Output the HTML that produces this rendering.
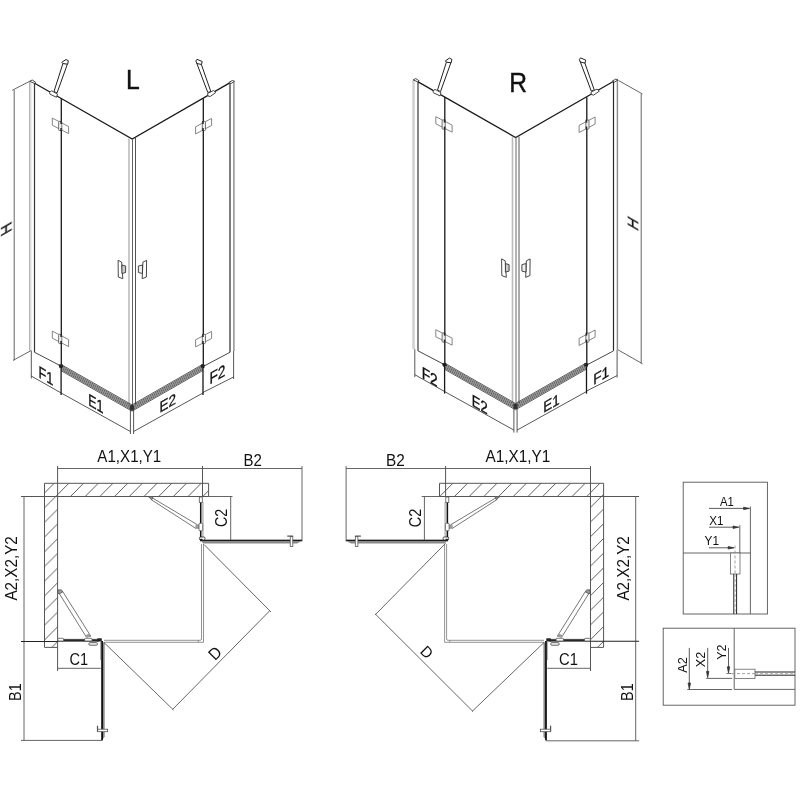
<!DOCTYPE html>
<html><head><meta charset="utf-8">
<style>
html,body{margin:0;padding:0;background:#fff;}
svg{display:block;}
text{font-family:"Liberation Sans",sans-serif;fill:#111;}
.t{will-change:transform;}
</style></head>
<body>
<svg width="800" height="800" viewBox="0 0 800 800">
<defs>
<pattern id="hatchL" patternUnits="userSpaceOnUse" width="14.7" height="14.7" x="8.3" y="0">
<path d="M-1 1 L1 -1 M0 14.7 L14.7 0 M13.7 15.7 L15.7 13.7" stroke="#4a4a4a" stroke-width="0.9"/>
</pattern>
<pattern id="hatchR" patternUnits="userSpaceOnUse" width="14.7" height="14.7" x="10.1" y="0">
<path d="M-1 1 L1 -1 M0 14.7 L14.7 0 M13.7 15.7 L15.7 13.7" stroke="#4a4a4a" stroke-width="0.9"/>
</pattern>
<g id="iso" fill="none">
  <!-- left wall profile -->
  <line x1="29.6" y1="81.5" x2="29.6" y2="350.5" stroke="#b0b0b0" stroke-width="1.1"/>
  <line x1="30.8" y1="82" x2="30.8" y2="350.8" stroke="#dcdcdc" stroke-width="1.4"/>
  <line x1="34.5" y1="83.2" x2="34.5" y2="352.2" stroke="#383838" stroke-width="1.2"/>
  <path d="M29.7 81.25 L32.2 80 L35.6 82.2 L34.4 83.4 Z" fill="#fff" stroke="#333" stroke-width="0.9"/>
  <!-- right wall profile -->
  <line x1="230" y1="83" x2="230" y2="352.2" stroke="#2a2a2a" stroke-width="1.2"/>
  <line x1="233.9" y1="81.5" x2="233.9" y2="351" stroke="#8a8a8a" stroke-width="1.4"/>
  <path d="M228.9 82.4 L232.3 80.5 L234.5 81.25 L231.1 83.5 Z" fill="#fff" stroke="#333" stroke-width="0.9"/>
  <!-- top edges -->
  <path d="M34.6 83.3 L132.2 139 L229.3 83.1" stroke="#1a1a1a" stroke-width="1.3"/>
  <!-- door edges -->
  <line x1="61.3" y1="98.3" x2="61.3" y2="366" stroke="#181818" stroke-width="1.3"/>
  <line x1="203.3" y1="98.6" x2="203.3" y2="366.5" stroke="#181818" stroke-width="1.3"/>
  <!-- center post -->
  <line x1="129" y1="138.5" x2="129" y2="404.5" stroke="#bbb" stroke-width="1.6"/>
  <line x1="132.5" y1="139" x2="132.5" y2="405" stroke="#666" stroke-width="1"/>
  <line x1="135.5" y1="138" x2="135.5" y2="404.5" stroke="#555" stroke-width="1"/>
  <!-- bottom thin edges -->
  <line x1="34.4" y1="352.2" x2="60.5" y2="365.8" stroke="#333" stroke-width="0.9"/>
  <line x1="203.5" y1="366.3" x2="230" y2="352.3" stroke="#333" stroke-width="0.9"/>
  <!-- bottom rails -->
  <g stroke="#333" stroke-width="0.8">
    <path d="M61 364.40 L132 404.90 L203 364.20"/>
    <path d="M61 365.65 L132 406.15 L203 365.45"/>
    <path d="M61 366.90 L132 407.40 L203 366.70"/>
    <path d="M61 368.15 L132 408.65 L203 367.95"/>
    <path d="M61 369.40 L132 409.90 L203 369.20"/>
    <path d="M61 370.65 L132 411.15 L203 370.45"/>
  </g>
  <path d="M58.5 364.6 L62.5 364.2 L63.5 367.2 L59.5 368.2 Z" fill="#222"/>
  <path d="M201 364.4 L205 364.8 L204.2 368.2 L200.5 367.3 Z" fill="#222"/>
  <path d="M129.8 405.5 L132 404.8 L134.2 405.5 L134 410.5 L130 410.5 Z" fill="#333"/>
  <!-- hinges -->
  <g stroke="#777" stroke-width="0.9" fill="#fff">
    <path d="M52.3 118.1 L68.6 126.5 L68.6 133.6 L52.3 125.2 Z"/>
    <path d="M52.3 331.1 L68.6 339.5 L68.6 346.6 L52.3 338.2 Z"/>
    <path d="M195.6 126.8 L211.6 118.4 L211.6 125.5 L195.6 133.9 Z"/>
    <path d="M195.6 339.8 L211.6 331.4 L211.6 338.5 L195.6 346.9 Z"/>
  </g>
  <g stroke="#555" stroke-width="0.8" fill="#eee">
    <rect x="58.6" y="121.3" width="3.2" height="9.3" rx="1"/>
    <rect x="58.6" y="334.3" width="3.2" height="9.3" rx="1"/>
    <rect x="202.3" y="121.3" width="3.2" height="9.3" rx="1"/>
    <rect x="202.3" y="334.3" width="3.2" height="9.3" rx="1"/>
  </g>
  <g stroke="#222" stroke-width="1.5">
    <line x1="61.1" y1="121" x2="61.1" y2="124"/>
    <line x1="61.1" y1="128" x2="61.1" y2="131"/>
    <line x1="61.1" y1="334" x2="61.1" y2="337"/>
    <line x1="61.1" y1="341" x2="61.1" y2="344"/>
    <line x1="203" y1="121" x2="203" y2="124"/>
    <line x1="203" y1="128" x2="203" y2="131"/>
    <line x1="203" y1="334" x2="203" y2="337"/>
    <line x1="203" y1="341" x2="203" y2="344"/>
  </g>
  <!-- stabilizer bars -->
  <g stroke="#222" stroke-width="1" fill="#fff">
    <path d="M54 91.5 L63 63.2 L67.5 63.8 L57 93 Z"/>
    <path d="M61.8 62.3 L66 59.5 L68.4 60.8 L67.6 64.2 L63 63.6 Z"/>
    <path d="M49.5 92.5 L51.5 90.8 L57.5 94 L56.5 97.3 L50 94.2 Z" stroke="#444"/>
    <path d="M207.8 92.5 L196.5 62.5 L200.5 62 L210.8 91.5 Z"/>
    <path d="M195.8 61 L197 59.3 L202.2 61.5 L201.5 64.5 L197 63.5 Z"/>
    <path d="M207.5 93.5 L213.5 90.5 L215.8 92.5 L210.2 96.5 L208 96 Z" stroke="#444"/>
  </g>
  <!-- handles -->
  <g stroke="#333" stroke-width="0.9" fill="#fff">
    <path d="M118.1 260.3 L121.7 262.2 L122.8 278.7 L118.3 277 Z"/>
    <path d="M121.9 265 L125.6 266 L125.6 272.5 L121.9 273.5 Z" fill="#ccc"/>
    <path d="M146.6 260.3 L142.9 262.2 L142.2 278.7 L146.4 277 Z"/>
    <path d="M142.5 265 L138.4 266 L138.4 272.5 L142.5 273.5 Z" fill="#eee"/>
  </g>
  <!-- dimension lines bottom -->
  <g stroke="#444" stroke-width="0.9">
    <line x1="31.3" y1="350.6" x2="31.3" y2="378.5"/>
    <line x1="130.4" y1="409" x2="130.4" y2="434"/>
    <line x1="133.6" y1="409" x2="133.6" y2="434"/>
    <line x1="233.6" y1="351" x2="233.6" y2="379"/>
    <line x1="31.2" y1="376" x2="61.2" y2="393"/>
    <line x1="61.2" y1="393" x2="130.4" y2="431.5"/>
    <line x1="133.6" y1="431.5" x2="202.9" y2="393"/>
    <line x1="202.9" y1="392.5" x2="233.6" y2="377"/>
  </g>
  <g stroke="#181818" stroke-width="1.3">
    <line x1="61.1" y1="366" x2="61.1" y2="395"/>
    <line x1="203" y1="367" x2="203" y2="395"/>
  </g>
</g>

<!-- PLAN (L) geometry common with mirrored R -->
<g id="plan" fill="none">
  <g stroke="#555" stroke-width="1">
    <path d="M208.6 483.3 L44.5 483.3 L44.5 647.4 L57.6 647.4"/>
    <line x1="208.6" y1="483.3" x2="208.6" y2="496.5"/>
    <line x1="44.5" y1="496.5" x2="208.6" y2="496.5"/>
    <line x1="57.6" y1="466" x2="57.6" y2="671"/>
    <line x1="202.5" y1="466" x2="202.5" y2="496.5"/>
  </g>
  <g stroke="#555" stroke-width="0.9">
    <line x1="57.6" y1="468.5" x2="302" y2="468.5"/>
    <line x1="302" y1="466" x2="302" y2="541.5"/>
    <line x1="57.6" y1="668.3" x2="100.8" y2="668.3"/>
  </g>
  <rect x="57.6" y="638.9" width="41" height="2.5" fill="#4a4a4a"/>
  <line x1="57.6" y1="640.9" x2="98.6" y2="640.9" stroke="#111" stroke-width="1"/>
  <!-- right fixed panel -->
  <rect x="201.2" y="502" width="2.6" height="36" fill="#c4c4c4"/>
  <line x1="200.65" y1="497" x2="200.65" y2="540" stroke="#111" stroke-width="1.4"/>
  <!-- closed doors (double lines) -->
  <g stroke="#777" stroke-width="0.8">
    <path d="M201.5 544 L201.5 639 Q201.5 640.3 200.2 640.3 L104 640.3"/>
    <path d="M203.5 544 L203.5 642.3 L104 642.3"/>
    <line x1="198.3" y1="640.3" x2="198.3" y2="642.3"/>
  </g>
  <!-- opened door right (horizontal) -->
  <path d="M201 539.8 L302 539.8 L302 541 L297 543.4 L203 543.4 Z" fill="#8a8a8a"/>
  <line x1="201" y1="540.4" x2="302" y2="540.4" stroke="#1a1a1a" stroke-width="1.3"/>
  <!-- handle right -->
  <rect x="290.2" y="536.6" width="2.6" height="10" fill="#fff" stroke="#555" stroke-width="0.8"/>
  <rect x="287.2" y="535.5" width="5.8" height="1.2" fill="#555"/>
  <!-- opened door bottom (vertical) -->
  <path d="M101.3 641 L101.3 740.5 L101.6 740.5 L104.7 736.7 L104.7 643 Z" fill="#8a8a8a"/>
  <line x1="102.15" y1="641" x2="102.15" y2="740.3" stroke="#111" stroke-width="1.7"/>
  <line x1="100.5" y1="642" x2="100.5" y2="660" stroke="#999" stroke-width="0.8"/>
  <!-- handle bottom -->
  <rect x="97.6" y="729.2" width="10" height="2.5" fill="#fff" stroke="#555" stroke-width="0.8"/>
  <rect x="96.9" y="725.7" width="1.2" height="5.8" fill="#555"/>
  <!-- stabilizer right -->
  <g stroke="#555" stroke-width="0.8" fill="#fff">
    <path d="M150.5 496.8 L197 524.5 L196 528.5 L151 499.5 Z"/>
    <path d="M148.5 496.8 L153 496.8 L152 499.5 Z" fill="#999"/>
    <path d="M195.5 524.7 L199 524.2 L199 529 L195.5 528.6 Z" fill="#999" stroke="none"/>
    <rect x="199" y="523.2" width="3.7" height="7.6" rx="1"/>
    <rect x="199.3" y="497" width="3" height="5.5"/>
    <rect x="199.4" y="537" width="5.6" height="3" rx="1.2" stroke="#222"/>
  </g>
  <!-- stabilizer bottom -->
  <g stroke="#555" stroke-width="0.8" fill="#fff">
    <path d="M59 593.1 L86.3 637 L90.8 636.2 L62.7 591.5 Z"/>
    <path d="M58.2 589.8 L61.5 589.9 L62.7 592 L59 594 L58.2 593 Z" fill="#999"/>
    <path d="M86 635 L89 633.8 L90.8 636.5 L86.5 637.5 Z" fill="#999" stroke="none"/>
    <rect x="84.7" y="638.3" width="7.3" height="2.7" rx="0.8"/>
    <rect x="57.8" y="638.3" width="5.7" height="2.7" rx="0.8"/>
    <rect x="89" y="642.7" width="8.3" height="2.5" rx="0.8" stroke="#333"/>
  </g>
  <rect x="97.3" y="638.3" width="4.5" height="3.2" fill="#222"/>
  <rect x="200" y="538.8" width="2.5" height="2.5" fill="#222"/>
</g>
</defs>

<!-- ===== ISO L ===== -->
<use href="#iso"/>
<g stroke="#555" stroke-width="0.9" fill="none">
  <line x1="12.2" y1="90.3" x2="29.7" y2="81.3"/>
  <line x1="13" y1="360.4" x2="31" y2="350.6"/>
  <line x1="14.2" y1="90" x2="14.2" y2="360.4"/>
</g>

<!-- ===== ISO R ===== -->
<use href="#iso" transform="translate(383.5,-1.4)"/>
<g stroke="#555" stroke-width="0.9" fill="none">
  <line x1="618.5" y1="80.5" x2="642.5" y2="94"/>
  <line x1="618" y1="349.8" x2="642.5" y2="363.8"/>
  <line x1="641.2" y1="94" x2="641.2" y2="363.5"/>
</g>

<!-- ===== PLAN L ===== -->
<rect x="44.5" y="483.3" width="164.1" height="13.2" fill="url(#hatchL)"/>
<rect x="44.5" y="496.5" width="13.1" height="150.9" fill="url(#hatchL)"/>
<use href="#plan"/>
<g stroke="#555" stroke-width="0.9" fill="none">
  <line x1="21" y1="496.5" x2="44.5" y2="496.5" stroke-width="1"/>
  <line x1="24" y1="496.5" x2="24" y2="740.4"/>
  <line x1="21" y1="740.4" x2="102.5" y2="740.4"/>
  <line x1="21" y1="641.45" x2="57.6" y2="641.45" stroke="#222" stroke-width="1.1"/>
  <line x1="202.5" y1="496.5" x2="232.5" y2="496.5"/>
  <line x1="230.7" y1="496.5" x2="230.7" y2="540"/>
  <line x1="204" y1="544.5" x2="271" y2="612"/>
  <line x1="104" y1="642.5" x2="173.5" y2="710"/>
  <line x1="172.5" y1="709.5" x2="269.5" y2="611"/>
</g>

<!-- ===== PLAN R ===== -->
<rect x="439.5" y="483.3" width="164.1" height="13.2" fill="url(#hatchR)"/>
<rect x="590.5" y="496.5" width="13.1" height="150.9" fill="url(#hatchR)"/>
<use href="#plan" transform="translate(648.1,0) scale(-1,1)"/>
<g stroke="#555" stroke-width="0.9" fill="none">
  <line x1="603.6" y1="496.5" x2="639.1" y2="496.5" stroke-width="1"/>
  <line x1="635.7" y1="496.5" x2="635.7" y2="740.8"/>
  <line x1="545.6" y1="740.8" x2="639.1" y2="740.8"/>
  <line x1="590.5" y1="641.3" x2="639.1" y2="641.3" stroke="#222" stroke-width="1.1"/>
  <line x1="421.7" y1="496.5" x2="445.6" y2="496.5"/>
  <line x1="424.4" y1="496.5" x2="424.4" y2="540"/>
  <line x1="445.5" y1="543.4" x2="375" y2="615"/>
  <line x1="544" y1="642.5" x2="472" y2="711.5"/>
  <line x1="375.3" y1="614" x2="473" y2="711.5"/>
</g>

<!-- ===== DETAIL 1 ===== -->
<g fill="none" stroke="#555" stroke-width="0.9">
  <rect x="683.2" y="482.2" width="84.2" height="131.8"/>
  <line x1="683.2" y1="553" x2="750.4" y2="553"/>
  <line x1="750.4" y1="506.5" x2="750.4" y2="614"/>
  <line x1="739.8" y1="525.2" x2="739.8" y2="553"/>
</g>
<g stroke="#333" stroke-width="0.8" fill="#333">
  <line x1="709" y1="508.4" x2="745" y2="508.4"/>
  <path d="M749.6 508.4 L743.6 507.2 L743.6 509.6 Z"/>
  <line x1="709" y1="527.2" x2="734.5" y2="527.2"/>
  <path d="M738.8 527.2 L733 526 L733 528.4 Z"/>
  <line x1="709" y1="547.8" x2="730" y2="547.8"/>
  <path d="M734.2 547.8 L728.2 546.6 L728.2 549 Z"/>
</g>
<rect x="730.6" y="553" width="9.4" height="21" fill="#fff" stroke="#666" stroke-width="0.8"/>
<line x1="735" y1="545.5" x2="735" y2="574" stroke="#888" stroke-width="0.8" stroke-dasharray="3 2"/>
<line x1="733.8" y1="574" x2="733.8" y2="614" stroke="#222" stroke-width="1"/>
<line x1="736.6" y1="574" x2="736.6" y2="614" stroke="#222" stroke-width="1"/>
<line x1="735.2" y1="574" x2="735.2" y2="614" stroke="#999" stroke-width="0.7" stroke-dasharray="3 2"/>

<!-- ===== DETAIL 2 ===== -->
<g fill="none" stroke="#555" stroke-width="0.9">
  <rect x="663.2" y="628.2" width="131.8" height="77"/>
  <line x1="734.2" y1="628.2" x2="734.2" y2="689.4"/>
  <line x1="734.2" y1="689.4" x2="795" y2="689.4"/>
  <line x1="687.3" y1="689.5" x2="732.2" y2="689.5"/>
  <line x1="706.2" y1="678.4" x2="732.2" y2="678.4"/>
  <line x1="726.5" y1="673.5" x2="731.4" y2="673.5"/>
</g>
<g stroke="#333" stroke-width="0.8" fill="#333">
  <line x1="689.3" y1="647.9" x2="689.3" y2="684"/>
  <path d="M689.3 689.2 L688.1 683 L690.5 683 Z"/>
  <line x1="707.7" y1="647.9" x2="707.7" y2="672.5"/>
  <path d="M707.7 677.6 L706.5 671.4 L708.9 671.4 Z"/>
  <line x1="728.5" y1="647.9" x2="728.5" y2="668"/>
  <path d="M728.5 673 L727.3 666.8 L729.7 666.8 Z"/>
</g>
<rect x="734.8" y="669.2" width="20.2" height="9.2" fill="#fff" stroke="#666" stroke-width="0.8"/>
<line x1="727" y1="673.6" x2="755" y2="673.6" stroke="#888" stroke-width="0.8" stroke-dasharray="3 2"/>
<line x1="755" y1="672" x2="795" y2="672" stroke="#222" stroke-width="1"/>
<line x1="755" y1="675.2" x2="795" y2="675.2" stroke="#222" stroke-width="1"/>
<line x1="755" y1="673.6" x2="795" y2="673.6" stroke="#999" stroke-width="0.7" stroke-dasharray="3 2"/>

<g class="t">
<text font-size="28.41" transform="translate(125.92,88.8) scale(0.87,1)" stroke="#111" stroke-width="0.45">L</text>
<text font-size="27.97" transform="translate(509.13,91.5) scale(0.88,1)" stroke="#111" stroke-width="0.45">R</text>
<text font-size="16.74" stroke="#111" stroke-width="0.35" transform="translate(38.48,377.16) skewY(30) scale(0.76,1)">F1</text>
<text font-size="16.81" stroke="#111" stroke-width="0.35" transform="translate(88.25,405.02) skewY(30) scale(0.74,1)">E1</text>
<text font-size="15.29" stroke="#111" stroke-width="0.35" transform="translate(159.42,412.92) skewY(-30) scale(0.88,1)">E2</text>
<text font-size="16.86" stroke="#111" stroke-width="0.35" transform="translate(209.5,384.83) skewY(-30) scale(0.81,1)">F2</text>
<text font-size="16.43" stroke="#111" stroke-width="0.35" transform="translate(421.7,377.87) skewY(30) scale(0.84,1)">F2</text>
<text font-size="16.43" stroke="#111" stroke-width="0.35" transform="translate(471.76,405.4) skewY(30) scale(0.79,1)">E2</text>
<text font-size="15.22" stroke="#111" stroke-width="0.35" transform="translate(543.23,413.12) skewY(-30) scale(0.88,1)">E1</text>
<text font-size="15.22" stroke="#111" stroke-width="0.35" transform="translate(593.21,385.13) skewY(-30) scale(0.9,1)">F1</text>
<text font-size="14.6" stroke="#111" stroke-width="0.3" transform="translate(11.7,231.3) skewY(-30) rotate(-90)">H</text>
<text font-size="14.8" stroke="#111" stroke-width="0.3" transform="translate(638.3,231.9) skewY(30) rotate(-90)">H</text>
<text font-size="16.45" transform="translate(97.37,461.6) scale(0.92,1)">A1,X1,Y1</text>
<text font-size="16.86" transform="translate(243.4,465.7) scale(0.89,1)">B2</text>
<text font-size="17" transform="translate(69.52,665.1) scale(0.86,1)">C1</text>
<text font-size="17.14" transform="translate(17,600.58) rotate(-90) scale(0.89,1)">A2,X2,Y2</text>
<text font-size="17.1" transform="translate(20.8,700.9) rotate(-90) scale(0.84,1)">B1</text>
<text font-size="17.14" transform="translate(227.1,527.12) rotate(-90) scale(0.84,1)">C2</text>
<text font-size="16.5" transform="translate(215.01,661.29) rotate(-45) scale(0.95,1)">D</text>
<text font-size="16.52" transform="translate(485.52,462) scale(0.93,1)">A1,X1,Y1</text>
<text font-size="16.86" transform="translate(385.97,465.7) scale(0.91,1)">B2</text>
<text font-size="17" transform="translate(559.01,665.1) scale(0.87,1)">C1</text>
<text font-size="17.14" transform="translate(629,600.58) rotate(-90) scale(0.89,1)">A2,X2,Y2</text>
<text font-size="17.1" transform="translate(632.8,700.9) rotate(-90) scale(0.84,1)">B1</text>
<text font-size="17.29" transform="translate(421.2,527.33) rotate(-90) scale(0.84,1)">C2</text>
<text font-size="15.5" transform="translate(419.17,652.37) rotate(45) scale(0.95,1)">D</text>
<text font-size="13.04" transform="translate(720.04,506.1) scale(0.87,1)">A1</text>
<text font-size="13.04" transform="translate(709.31,524.5) scale(0.89,1)">X1</text>
<text font-size="13.04" transform="translate(704.61,545.1) scale(0.9,1)">Y1</text>
<text font-size="12.93" transform="translate(686.85,672.71) rotate(-90) scale(0.98,1)">A2</text>
<text font-size="13" transform="translate(705,667.22) rotate(-90) scale(0.97,1)">X2</text>
<text font-size="12.86" transform="translate(726,659.82) rotate(-90) scale(0.98,1)">Y2</text>
</g>
</svg>
</body></html>
